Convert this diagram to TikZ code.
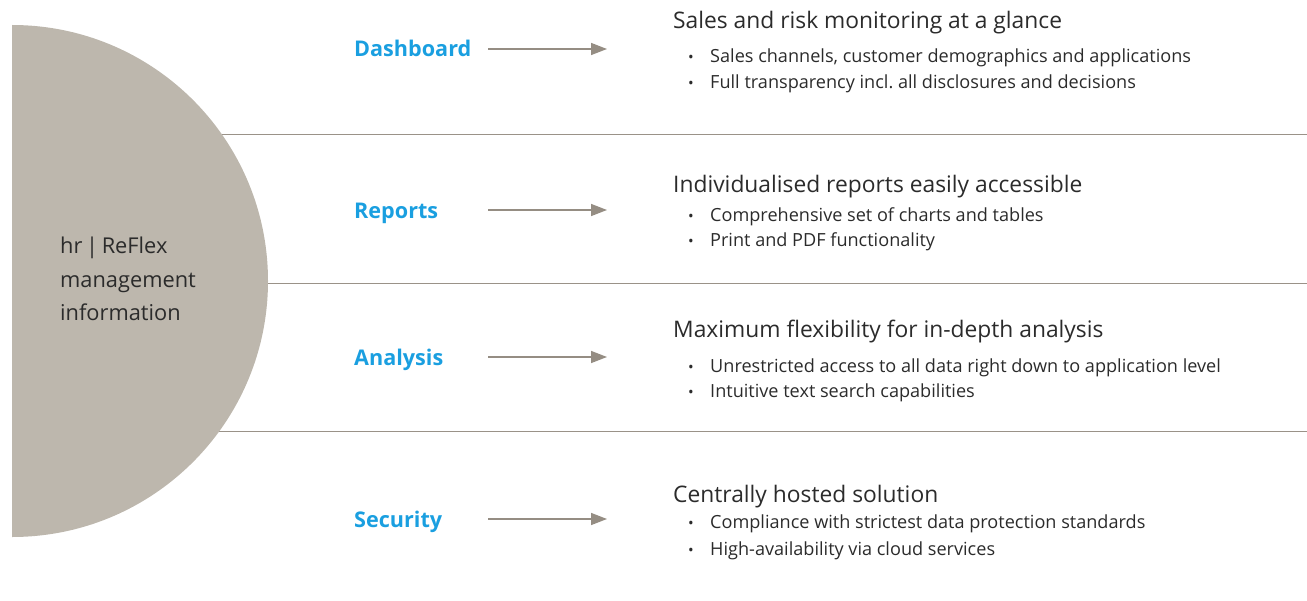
\documentclass[tikz,border=0pt]{standalone}
\usepackage{fontspec}
\setmainfont{Open Sans}
\usetikzlibrary{arrows.meta}
\definecolor{circfill}{HTML}{BDB7AD}
\definecolor{rulec}{HTML}{9A9288}
\definecolor{arrc}{HTML}{958D83}
\definecolor{labblue}{HTML}{1A9FE0}
\definecolor{txt}{HTML}{2B2B2B}
\frenchspacing
\begin{document}
\begin{tikzpicture}[x=1bp,y=-1bp,
  lab/.style={inner sep=0pt, anchor=base west, text=labblue, font=\fontsize{21.6bp}{25bp}\selectfont\bfseries},
  ttl/.style={inner sep=0pt, anchor=base west, text=txt, font=\fontsize{22.8bp}{27bp}\selectfont},
  itm/.style={inner sep=0pt, anchor=base west, text=txt, font=\fontsize{18.1bp}{21bp}\selectfont},
  bul/.style={inner sep=0pt, anchor=base west, text=txt, font=\fontsize{15bp}{18bp}\selectfont},
  hubtxt/.style={inner sep=0pt, anchor=base west, text=txt, font=\fontsize{21.8bp}{26bp}\selectfont},
  sep/.style={draw=rulec, line width=1bp},
  arr/.style={draw=arrc, line width=1.5bp, -{Triangle[length=16bp,width=12bp]}}]
\useasboundingbox (0,0) rectangle (1307,601);
% separators (behind the half disc)
\coordinate (s1a) at (12,135); \coordinate (s1b) at (1307,135);
\coordinate (s2a) at (12,283); \coordinate (s2b) at (1307,283);
\coordinate (s3a) at (12,431); \coordinate (s3b) at (1307,431);
\draw[sep] (s1a) -- (s1b);
\draw[sep] (s2a) -- (s2b);
\draw[sep] (s3a) -- (s3b);
% half disc
\fill[circfill] (12,25) arc[start angle=-90, end angle=90, radius=256] -- cycle;
\node[hubtxt] (hub1) at (60,253) {hr\,|\,ReFlex};
\node[hubtxt] (hub2) at (60,287) {management};
\node[hubtxt] (hub3) at (60,320) {information};
% Dashboard
\node[lab] (dash) at (354,57) {Dashboard};
\coordinate (dashA) at (488,49); \coordinate (dashB) at (607,49);
\draw[arr] (dashA) -- (dashB);
\node[ttl] (dashT) at (673,29) {Sales and risk monitoring at a glance};
\node[bul] (dashb1) at (688,63) {•};
\node[itm] (dashi1) at (710,63) {Sales channels, customer demographics and applications};
\node[bul] (dashb2) at (688,89) {•};
\node[itm] (dashi2) at (710,89) {Full transparency incl. all disclosures and decisions};
% Reports
\node[lab] (rep) at (354,218) {Reports};
\coordinate (repA) at (488,210); \coordinate (repB) at (607,210);
\draw[arr] (repA) -- (repB);
\node[ttl] (repT) at (673,193) {Individualised reports easily accessible};
\node[bul] (repb1) at (688,221) {•};
\node[itm] (repi1) at (710,221) {Comprehensive set of charts and tables};
\node[bul] (repb2) at (688,246) {•};
\node[itm] (repi2) at (710,246) {Print and PDF functionality};
% Analysis
\node[lab] (ana) at (354,365) {Analysis};
\coordinate (anaA) at (488,357); \coordinate (anaB) at (607,357);
\draw[arr] (anaA) -- (anaB);
\node[ttl] (anaT) at (673,337) {Maximum flexibility for in-depth analysis};
\node[bul] (anab1) at (688,372) {•};
\node[itm] (anai1) at (710,372) {Unrestricted access to all data right down to application level};
\node[bul] (anab2) at (688,397) {•};
\node[itm] (anai2) at (710,397) {Intuitive text search capabilities};
% Security
\node[lab] (sec) at (354,527) {Security};
\coordinate (secA) at (488,519); \coordinate (secB) at (607,519);
\draw[arr] (secA) -- (secB);
\node[ttl] (secT) at (673,502) {Centrally hosted solution};
\node[bul] (secb1) at (688,528) {•};
\node[itm] (seci1) at (710,528) {Compliance with strictest data protection standards};
\node[bul] (secb2) at (688,555) {•};
\node[itm] (seci2) at (710,555) {High-availability via cloud services};
\end{tikzpicture}
\end{document}
